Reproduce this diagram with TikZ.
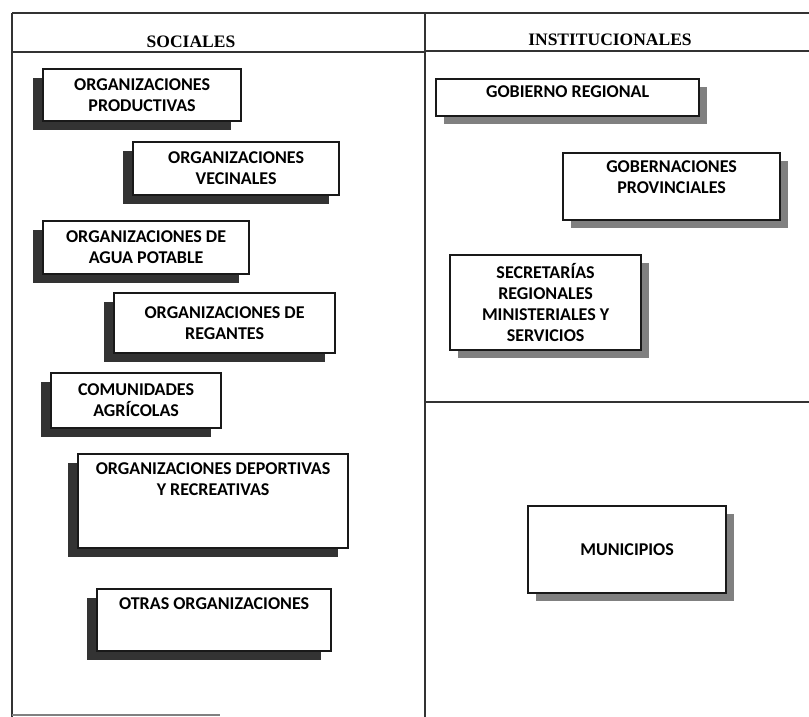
\documentclass[tikz,border=0pt]{standalone}
\usepackage{fontspec}
\setmainfont{Liberation Serif}
\newfontfamily\boxfont{Carlito}
\usetikzlibrary{shadows}

\tikzset{
  frame/.style={draw=black!80, line width=2.4pt},
  header/.style={font=\bfseries\fontsize{17.5}{20}\selectfont},
  basebox/.style={draw=black!90, line width=2.2pt, fill=white, align=center,
    anchor=north west, inner sep=4pt,
    font=\boxfont\bfseries\fontsize{18}{21}\selectfont},
  socbox/.style={basebox,
    general shadow={fill=black!80, shadow xshift=-10pt, shadow yshift=-9pt}},
  instbox/.style={basebox,
    general shadow={fill=black!50, shadow xshift=8pt, shadow yshift=-8pt}}
}

\begin{document}
\begin{tikzpicture}[x=1pt, y=-1pt]
    \useasboundingbox (0,0) rectangle (809,717);

    % table lines
    \draw[frame] (12,13) -- (809,13);
    \draw[frame] (12,13) -- (12,717);
    \draw[frame] (425,13) -- (425,717);
    \draw[frame] (12,52) -- (425,52);
    \draw[frame] (425,51) -- (809,51);
    \draw[frame] (425,402) -- (809,402);
    \draw[frame, draw=black!50] (12,715) -- (220,715);

    \node[header] (soc) at (191,42) {SOCIALES};
    \node[header] (inst) at (610,40) {INSTITUCIONALES};

    % sociales
    \node[socbox, minimum width=198, minimum height=52] (prod) at (42,68)
        {ORGANIZACIONES\\PRODUCTIVAS};
    \node[socbox, minimum width=206, minimum height=53] (vec) at (132,141)
        {ORGANIZACIONES\\VECINALES};
    \node[socbox, minimum width=206, minimum height=53] (agua) at (42,220)
        {ORGANIZACIONES DE\\AGUA POTABLE};
    \node[socbox, minimum width=221, minimum height=60] (reg) at (113,292)
        {ORGANIZACIONES DE\\REGANTES};
    \node[socbox, minimum width=170, minimum height=55] (com) at (50,372)
        {COMUNIDADES\\AGR\'ICOLAS};
    \node[socbox, minimum width=270, inner ysep=9pt, text depth=43pt] (dep) at (77,453)
        {ORGANIZACIONES DEPORTIVAS\\Y RECREATIVAS};
    \node[socbox, minimum width=234, inner ysep=9pt, text depth=32pt] (otras) at (96,588)
        {OTRAS ORGANIZACIONES};

    % institucionales
    \node[instbox, minimum width=263, inner ysep=7pt, text depth=11pt] (gob) at (435,78)
        {GOBIERNO REGIONAL};
    \node[instbox, minimum width=217, inner ysep=8pt, text depth=18pt] (gobp) at (562,152)
        {GOBERNACIONES\\PROVINCIALES};
    \node[instbox, minimum width=191, minimum height=95] (seremi) at (449,254)
        {SECRETAR\'IAS\\REGIONALES\\MINISTERIALES Y\\SERVICIOS};
    \node[instbox, minimum width=198, minimum height=87] (muni) at (527,505)
        {MUNICIPIOS};
\end{tikzpicture}
\end{document}
